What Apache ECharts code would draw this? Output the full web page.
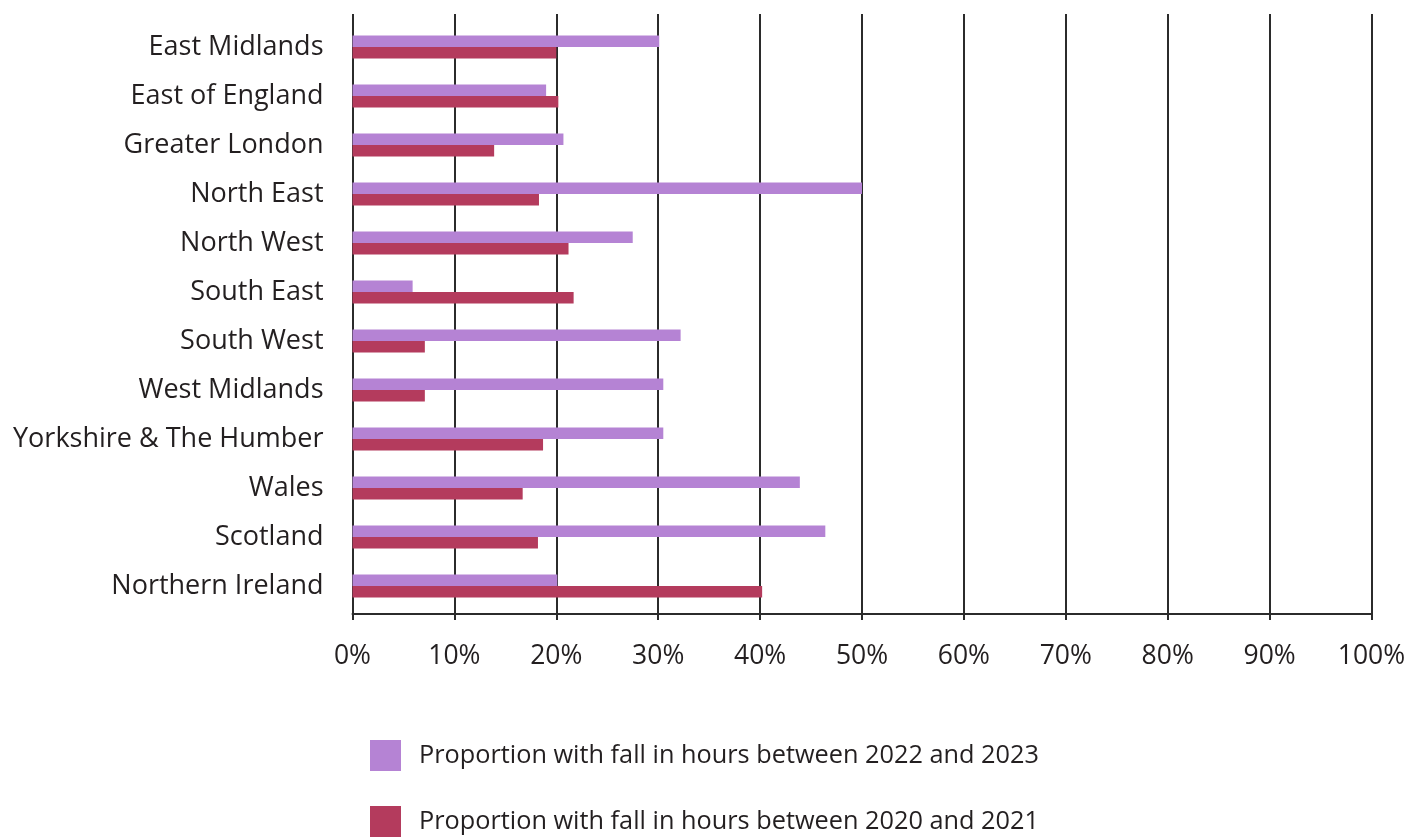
<!DOCTYPE html>
<html>
<head>
<meta charset="utf-8">
<script src="https://cdn.jsdelivr.net/npm/echarts@6/dist/echarts.min.js"></script>
<style>
html,body{margin:0;padding:0;background:#fff;}
#chart{width:1410px;height:837px;}
</style>
</head>
<body>
<div id="chart"></div>
<script>
var categories = ["East Midlands","East of England","Greater London","North East","North West","South East","South West","West Midlands","Yorkshire & The Humber","Wales","Scotland","Northern Ireland"];
var seriesNames = ["Proportion with fall in hours between 2022 and 2023","Proportion with fall in hours between 2020 and 2021"];
var fall2022to2023 = [30.1, 19.0, 20.7, 50.0, 27.5, 5.9, 32.2, 30.5, 30.5, 43.9, 46.4, 20.1];
var fall2020to2021 = [20.0, 20.2, 13.9, 18.3, 21.2, 21.7, 7.1, 7.1, 18.7, 16.7, 18.2, 40.2];
var xTicks = [0,10,20,30,40,50,60,70,80,90,100];

var FONT = "'Open Sans', sans-serif";
var TXT = "#231f20";
var chart = echarts.init(document.getElementById('chart'), null, {renderer:'canvas'});
chart.setOption({
  animation:false,
  backgroundColor:'#ffffff',
  textStyle:{fontFamily:FONT},
  grid:[
    {left:352.5, right:38.5, top:14, height:600},
    {left:352.5, right:38.5, top:22.5, height:588}
  ],
  xAxis:[
    {gridIndex:0, type:'value', min:xTicks[0], max:xTicks[xTicks.length-1], interval:10,
     axisLine:{show:true, lineStyle:{color:'#2b2b2b', width:2}},
     axisTick:{show:true, length:6, lineStyle:{color:'#2b2b2b', width:2}},
     splitLine:{show:true, lineStyle:{color:'#2b2b2b', width:2}},
     axisLabel:{fontSize:26.5, color:TXT, fontFamily:FONT, margin:29, formatter:function(v){return v+'%';}}},
    {gridIndex:1, type:'value', min:0, max:100, show:false}
  ],
  yAxis:[
    {gridIndex:0, type:'value', min:0, max:1, show:false},
    {gridIndex:1, type:'category', inverse:true, data:categories,
     axisLine:{show:false}, axisTick:{show:false}, splitLine:{show:false},
     axisLabel:{fontSize:27, color:TXT, fontFamily:FONT, margin:29}}
  ],
  legend:{
    orient:'vertical', left:370, top:740, padding:0, itemGap:35,
    itemWidth:31, itemHeight:31, icon:'rect',
    textStyle:{fontSize:25.3, color:TXT, fontFamily:FONT, padding:[0,0,0,13]},
    data:seriesNames
  },
  series:[
    {name:seriesNames[0], type:'bar', xAxisIndex:1, yAxisIndex:1, data:fall2022to2023,
     barWidth:11.5, barGap:'0%', itemStyle:{color:'#b583d4'}},
    {name:seriesNames[1], type:'bar', xAxisIndex:1, yAxisIndex:1, data:fall2020to2021,
     barWidth:11.5, barGap:'0%', itemStyle:{color:'#b43b5d'}}
  ]
});
</script>
</body>
</html>
